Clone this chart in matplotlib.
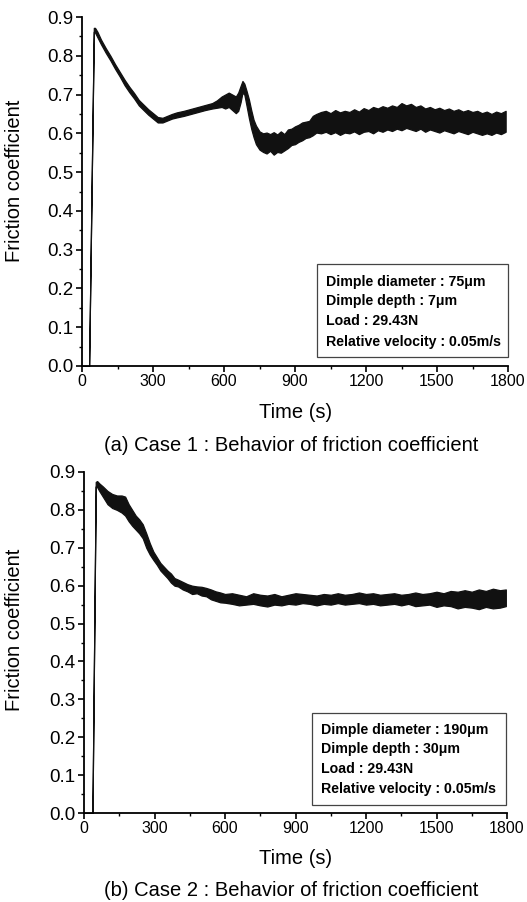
import matplotlib
matplotlib.use("Agg")
import matplotlib.pyplot as plt
from matplotlib.patches import Rectangle
from matplotlib.ticker import MultipleLocator, FormatStrFormatter

# ---------------- data ----------------
# Case 1: time (s), lower and upper edge of the noisy friction trace
t1 = [0, 30, 50, 55, 65, 80, 100, 120, 140, 160, 180, 200, 220, 240, 260, 280,
      300, 320, 340, 360, 380, 400, 430, 460, 490, 520, 550, 570, 590, 605, 620,
      635, 650, 660, 670, 678, 686, 695, 705, 715, 725, 735, 750, 765, 780, 795,
      810, 825, 840, 855, 870, 885, 900, 915, 930, 945, 960, 975, 990, 1010,
      1030, 1050, 1070, 1090, 1110, 1130, 1150, 1170, 1190, 1210, 1230, 1250,
      1270, 1290, 1310, 1330, 1350, 1370, 1390, 1410, 1430, 1450, 1470, 1490,
      1510, 1530, 1550, 1570, 1590, 1610, 1630, 1650, 1670, 1690, 1710, 1730,
      1750, 1770, 1790]
lo1 = [0, 0, 0.862, 0.860, 0.848, 0.830, 0.808, 0.788, 0.766, 0.746, 0.724,
       0.706, 0.690, 0.672, 0.660, 0.648, 0.638, 0.628, 0.628, 0.633, 0.638,
       0.641, 0.645, 0.650, 0.655, 0.660, 0.664, 0.666, 0.668, 0.664, 0.668,
       0.660, 0.652, 0.658, 0.680, 0.705, 0.700, 0.672, 0.640, 0.612, 0.590,
       0.572, 0.558, 0.552, 0.548, 0.555, 0.545, 0.552, 0.550, 0.556, 0.562,
       0.570, 0.572, 0.578, 0.582, 0.588, 0.590, 0.595, 0.602, 0.600, 0.604,
       0.598, 0.603, 0.596, 0.602, 0.600, 0.605, 0.598, 0.604, 0.606, 0.600,
       0.608, 0.604, 0.610, 0.606, 0.612, 0.608, 0.614, 0.610, 0.606, 0.612,
       0.604, 0.610, 0.606, 0.602, 0.608, 0.604, 0.600, 0.606, 0.602, 0.598,
       0.604, 0.600, 0.596, 0.600, 0.596, 0.602, 0.598, 0.604]
hi1 = [0, 0, 0.872, 0.872, 0.862, 0.842, 0.820, 0.800, 0.778, 0.758, 0.738,
       0.720, 0.704, 0.686, 0.674, 0.662, 0.652, 0.642, 0.640, 0.645, 0.650,
       0.654, 0.658, 0.663, 0.668, 0.673, 0.678, 0.685, 0.695, 0.700, 0.705,
       0.700, 0.695, 0.705, 0.722, 0.735, 0.728, 0.710, 0.688, 0.660, 0.635,
       0.620, 0.605, 0.600, 0.602, 0.598, 0.603, 0.597, 0.605, 0.598, 0.610,
       0.612, 0.618, 0.622, 0.628, 0.630, 0.632, 0.645, 0.650, 0.655, 0.658,
       0.652, 0.660, 0.654, 0.658, 0.655, 0.662, 0.656, 0.665, 0.660, 0.668,
       0.664, 0.670, 0.666, 0.672, 0.668, 0.678, 0.672, 0.676, 0.668, 0.672,
       0.664, 0.668, 0.662, 0.666, 0.660, 0.664, 0.658, 0.662, 0.656, 0.660,
       0.655, 0.658, 0.652, 0.656, 0.650, 0.656, 0.652, 0.658]

# Case 2
t2 = [0, 36, 50, 56, 65, 80, 100, 120, 140, 160, 175, 190, 205, 220, 235, 250,
      265, 280, 295, 310, 325, 340, 355, 370, 385, 400, 420, 440, 460, 480, 500,
      520, 540, 560, 580, 600, 630, 660, 690, 720, 750, 780, 810, 840, 870, 900,
      930, 960, 990, 1020, 1050, 1080, 1110, 1140, 1170, 1200, 1230, 1260, 1290,
      1320, 1350, 1380, 1410, 1440, 1470, 1500, 1530, 1560, 1590, 1620, 1650,
      1680, 1710, 1740, 1770, 1795]
lo2 = [0, 0, 0.862, 0.860, 0.850, 0.835, 0.815, 0.805, 0.800, 0.793, 0.785,
       0.770, 0.758, 0.748, 0.738, 0.725, 0.700, 0.682, 0.668, 0.655, 0.640,
       0.630, 0.620, 0.608, 0.600, 0.598, 0.590, 0.585, 0.578, 0.580, 0.574,
       0.572, 0.564, 0.560, 0.556, 0.555, 0.552, 0.548, 0.550, 0.552, 0.548,
       0.545, 0.550, 0.548, 0.552, 0.550, 0.554, 0.552, 0.548, 0.552, 0.550,
       0.554, 0.550, 0.552, 0.554, 0.550, 0.552, 0.548, 0.550, 0.552, 0.548,
       0.552, 0.546, 0.548, 0.550, 0.544, 0.548, 0.546, 0.540, 0.544, 0.542,
       0.538, 0.544, 0.540, 0.542, 0.546]
hi2 = [0, 0, 0.874, 0.876, 0.870, 0.862, 0.850, 0.842, 0.838, 0.838, 0.835,
       0.815, 0.800, 0.785, 0.775, 0.762, 0.738, 0.712, 0.690, 0.675, 0.660,
       0.650, 0.640, 0.632, 0.620, 0.616, 0.610, 0.604, 0.600, 0.598, 0.597,
       0.594, 0.590, 0.585, 0.582, 0.578, 0.580, 0.576, 0.572, 0.580, 0.576,
       0.574, 0.578, 0.572, 0.576, 0.580, 0.578, 0.576, 0.574, 0.578, 0.576,
       0.580, 0.576, 0.578, 0.582, 0.578, 0.580, 0.576, 0.578, 0.580, 0.576,
       0.578, 0.582, 0.578, 0.580, 0.584, 0.580, 0.586, 0.584, 0.588, 0.584,
       0.590, 0.586, 0.592, 0.588, 0.590]

x_ticks = [0, 300, 600, 900, 1200, 1500, 1800]
y_ticks = [0.0, 0.1, 0.2, 0.3, 0.4, 0.5, 0.6, 0.7, 0.8, 0.9]

info1 = ["Dimple diameter : 75\u03bcm", "Dimple depth : 7\u03bcm",
         "Load : 29.43N", "Relative velocity : 0.05m/s"]
info2 = ["Dimple diameter : 190\u03bcm", "Dimple depth : 30\u03bcm",
         "Load : 29.43N", "Relative velocity : 0.05m/s"]
captions = ["(a) Case 1 : Behavior of friction coefficient",
            "(b) Case 2 : Behavior of friction coefficient"]
xlabel = "Time (s)"
ylabel = "Friction coefficient"

# ---------------- figure ----------------
W, H = 527, 902
plt.rcParams['font.family'] = ['Liberation Sans', 'DejaVu Sans']
fig = plt.figure(figsize=(W / 100, H / 100), dpi=100)


def frac(px_l, px_r, px_t, px_b):
    return [px_l / W, 1 - px_b / H, (px_r - px_l) / W, (px_b - px_t) / H]


panels = [
    dict(rect=frac(82, 508, 17, 366), t=t1, lo=lo1, hi=hi1, info=info1,
         box=(0.551, 0.026, 0.449, 0.266), tx=0.572,
         ty=[0.2415, 0.186, 0.129, 0.0696], xl=412, cap=445, cx=296,
         ylc=181),
    dict(rect=frac(84, 507, 472, 813), t=t2, lo=lo2, hi=hi2, info=info2,
         box=(0.539, 0.024, 0.459, 0.270), tx=0.56,
         ty=[0.244, 0.188, 0.130, 0.071], xl=858, cap=890, cx=296,
         ylc=630),
]

for p in panels:
    ax = fig.add_axes(p['rect'])
    ax.fill_between(p['t'], p['lo'], p['hi'], color='#111111',
                    linewidth=0.9, edgecolor='#111111')
    ax.set_xlim(0, 1800)
    ax.set_ylim(0, 0.9)
    ax.set_xticks(x_ticks)
    ax.set_yticks(y_ticks)
    ax.xaxis.set_minor_locator(MultipleLocator(150))
    ax.yaxis.set_minor_locator(MultipleLocator(0.05))
    ax.yaxis.set_major_formatter(FormatStrFormatter('%.1f'))
    for s in ['top', 'right']:
        ax.spines[s].set_visible(False)
    for s in ['left', 'bottom']:
        ax.spines[s].set_linewidth(1.3)
    ax.tick_params(which='major', direction='out', length=4, width=1.2, pad=2)
    ax.tick_params(axis='x', which='major', labelsize=11.5)
    ax.tick_params(axis='y', which='major', labelsize=13.5)
    ax.tick_params(which='minor', direction='out', length=2.5, width=1.0)
    ax.set_facecolor('white')

    bx, by, bw, bh = p['box']
    ax.add_patch(Rectangle((bx, by), bw, bh, transform=ax.transAxes,
                           fill=False, edgecolor='#444444', linewidth=0.9,
                           clip_on=False))
    for line, yy in zip(p['info'], p['ty']):
        ax.text(p['tx'], yy, line, transform=ax.transAxes,
                fontsize=10.2, fontweight='bold', va='center', ha='left')

    fig.text(p['cx'] / W, 1 - p['xl'] / H, xlabel, ha='center', va='center',
             fontsize=14.5)
    fig.text(15 / W, 1 - p['ylc'] / H, ylabel, ha='center', va='center',
             rotation=90, fontsize=14.5)

fig.text(291 / W, 1 - 445 / H, captions[0], ha='center', va='center',
         fontsize=14.5)
fig.text(291 / W, 1 - 890 / H, captions[1], ha='center', va='center',
         fontsize=14.5)

fig.savefig('out.png', dpi=100, facecolor='white')
